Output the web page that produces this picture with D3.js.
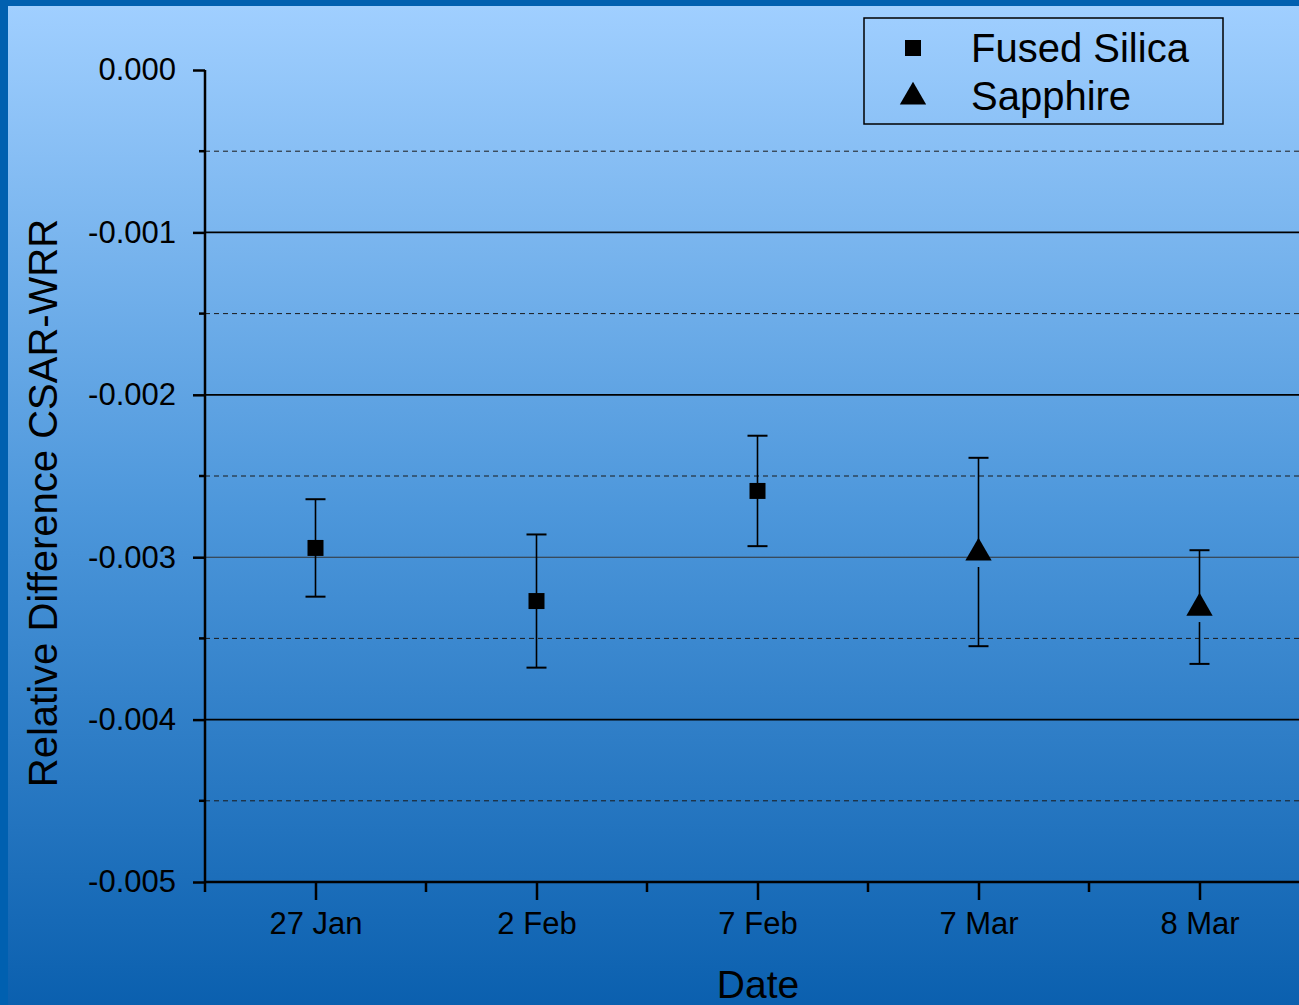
<!DOCTYPE html>
<html lang="en">
<head>
<meta charset="UTF-8">
<title>Relative Difference CSAR-WRR</title>
<style>
body{ margin:0; padding:0; overflow:hidden; }
svg{ display:block; font-family:"Liberation Sans", Arial, sans-serif; }
.grid-major{ stroke:#000; stroke-width:1.7px; }
.grid-minor{ stroke:#1a1a1a; stroke-width:1px; stroke-dasharray:5,4; }
.axis-line{ stroke:#000; stroke-width:2.5px; }
.mtick{ stroke:#000; stroke-width:2.5px; }
.err{ stroke:#000; stroke-width:1.6px; }
.cap{ stroke:#000; stroke-width:2px; }
</style>
</head>
<body>
<script src="https://cdn.jsdelivr.net/npm/d3@7"></script>
<script>
// categories and values
var dates = ["27 Jan", "2 Feb", "7 Feb", "7 Mar", "8 Mar"];
var fusedSilica = [
	{date:"27 Jan", v:-0.002943, err:0.00030},
	{date:"2 Feb",  v:-0.003270, err:0.00041},
	{date:"7 Feb",  v:-0.002592, err:0.00034}
];
var sapphire = [
	{date:"7 Mar", v:-0.002968, err:0.00058},
	{date:"8 Mar", v:-0.003307, err:0.00035}
];
var yMajor = [0, -0.001, -0.002, -0.003, -0.004, -0.005];
var yMinor = [-0.0005, -0.0015, -0.0025, -0.0035, -0.0045];
var legendNames = ["Fused Silica", "Sapphire"];

(function(){
	var W = 1299, H = 1005;
	var pLeft = 205, pTop = 70, pBottom = 882;
	var step = 221;
	var pRight = pLeft + step * 5;

	var svg = d3.select("body").append("svg").attr("width", W).attr("height", H);

	// slide background
	var defs = svg.append("defs");
	var grad = defs.append("linearGradient").attr("id", "bg").attr("x1", 0).attr("y1", 0).attr("x2", 0).attr("y2", 1);
	grad.append("stop").attr("offset", "0%").attr("stop-color", "#a0cfff");
	grad.append("stop").attr("offset", "50%").attr("stop-color", "#4d97db");
	grad.append("stop").attr("offset", "100%").attr("stop-color", "#0a5fae");
	svg.append("rect").attr("width", W).attr("height", H).attr("fill", "#0060b0");
	svg.append("rect").attr("x", 8).attr("y", 6).attr("width", W).attr("height", H).attr("fill", "url(#bg)");

	var y = d3.scaleLinear().domain([0, -0.005]).range([pTop, pBottom]);
	var x = d3.scalePoint().domain(dates).range([pLeft + step / 2, pLeft + step / 2 + step * 4]);

	var g = svg.append("g");

	// gridlines
	g.selectAll(".grid-minor").data(yMinor).enter().append("line")
		.attr("class", "grid-minor")
		.attr("x1", pLeft).attr("x2", pRight)
		.attr("y1", function(d){ return y(d); }).attr("y2", function(d){ return y(d); });
	g.selectAll(".grid-major").data(yMajor.filter(function(d){ return d < 0 && d > -0.005; })).enter().append("line")
		.attr("class", "grid-major")
		.attr("x1", pLeft).attr("x2", pRight)
		.attr("y1", function(d){ return y(d); }).attr("y2", function(d){ return y(d); })
		.style("stroke-width", function(d){ return d === -0.003 ? "1.1px" : null; })
		.style("stroke", function(d){ return d === -0.003 ? "#333" : null; });

	// y axis
	var yAxis = g.append("g").attr("transform", "translate(" + pLeft + ",0)")
		.call(d3.axisLeft(y).tickValues(yMajor).tickSize(12).tickPadding(17));
	yAxis.select(".domain").remove();
	yAxis.selectAll(".tick line").attr("stroke-width", 2.5);
	yAxis.selectAll(".tick text").attr("font-size", 31).attr("fill", "#000")
		.attr("font-family", "Liberation Sans, Arial, sans-serif")
		.text(function(d){ return d === 0 ? "0.000" : "-" + d3.format(".3f")(-d); });
	g.selectAll(".ytick-minor").data(yMinor).enter().append("line")
		.attr("class", "mtick")
		.attr("x1", pLeft - 6).attr("x2", pLeft)
		.attr("y1", function(d){ return y(d); }).attr("y2", function(d){ return y(d); });
	g.append("line").attr("class", "axis-line").attr("x1", pLeft).attr("x2", pLeft).attr("y1", pTop).attr("y2", pBottom);

	// x axis
	var xAxis = g.append("g").attr("transform", "translate(0," + pBottom + ")")
		.call(d3.axisBottom(x).tickSize(18).tickPadding(12));
	xAxis.select(".domain").remove();
	xAxis.selectAll(".tick line").attr("stroke-width", 2.5);
	xAxis.selectAll(".tick text").attr("font-size", 31).attr("fill", "#000")
		.attr("font-family", "Liberation Sans, Arial, sans-serif");
	var xMinor = d3.range(0, 6).map(function(i){ return pLeft + i * step; });
	g.selectAll(".xtick-minor").data(xMinor).enter().append("line")
		.attr("class", "mtick")
		.attr("x1", function(d){ return d; }).attr("x2", function(d){ return d; })
		.attr("y1", pBottom).attr("y2", pBottom + 10);
	g.append("line").attr("class", "axis-line").attr("x1", pLeft - 1).attr("x2", pRight).attr("y1", pBottom).attr("y2", pBottom);

	// error bars
	function errorBars(data, gapBelow){
		var eb = g.append("g");
		eb.selectAll(".up").data(data).enter().append("line").attr("class", "err")
			.attr("x1", function(d){ return x(d.date); }).attr("x2", function(d){ return x(d.date); })
			.attr("y1", function(d){ return y(d.v + d.err); }).attr("y2", function(d){ return y(d.v); });
		eb.selectAll(".down").data(data).enter().append("line").attr("class", "err")
			.attr("x1", function(d){ return x(d.date); }).attr("x2", function(d){ return x(d.date); })
			.attr("y1", function(d){ return y(d.v) + gapBelow; }).attr("y2", function(d){ return y(d.v - d.err); });
		[1, -1].forEach(function(s){
			eb.selectAll(".cap" + (s > 0 ? "u" : "d")).data(data).enter().append("line").attr("class", "cap")
				.attr("x1", function(d){ return x(d.date) - 10; }).attr("x2", function(d){ return x(d.date) + 10; })
				.attr("y1", function(d){ return y(d.v + s * d.err); }).attr("y2", function(d){ return y(d.v + s * d.err); });
		});
	}
	errorBars(fusedSilica, 0);
	errorBars(sapphire, 15);

	// markers
	var sq = d3.symbol().type(d3.symbolSquare).size(256);
	var tri = d3.symbol().type(d3.symbolTriangle).size(300);
	g.selectAll(".fs").data(fusedSilica).enter().append("path")
		.attr("d", sq).attr("fill", "#000")
		.attr("transform", function(d){ return "translate(" + x(d.date) + "," + y(d.v) + ")"; });
	g.selectAll(".sp").data(sapphire).enter().append("path")
		.attr("d", tri).attr("fill", "#000")
		.attr("transform", function(d){ return "translate(" + x(d.date) + "," + (y(d.v) + 1) + ")"; });

	// axis titles
	svg.append("text").attr("x", 758).attr("y", 998).attr("text-anchor", "middle")
		.attr("font-size", 39).attr("fill", "#000").text("Date");
	svg.append("text").attr("transform", "translate(57,503) rotate(-90)").attr("text-anchor", "middle")
		.attr("font-size", 40).attr("fill", "#000").text("Relative Difference CSAR-WRR");

	// legend
	var lg = svg.append("g").attr("transform", "translate(864,18)");
	lg.append("rect").attr("width", 359).attr("height", 106).attr("fill", "none").attr("stroke", "#000").attr("stroke-width", 1.5);
	lg.append("path").attr("d", sq).attr("fill", "#000").attr("transform", "translate(49,30)");
	lg.append("path").attr("d", tri).attr("fill", "#000").attr("transform", "translate(49,79)");
	lg.selectAll(".lt").data(legendNames).enter().append("text")
		.attr("x", 107).attr("y", function(d, i){ return 44 + i * 48; })
		.attr("font-size", 40).attr("fill", "#000").text(function(d){ return d; });
})();
</script>
</body>
</html>
